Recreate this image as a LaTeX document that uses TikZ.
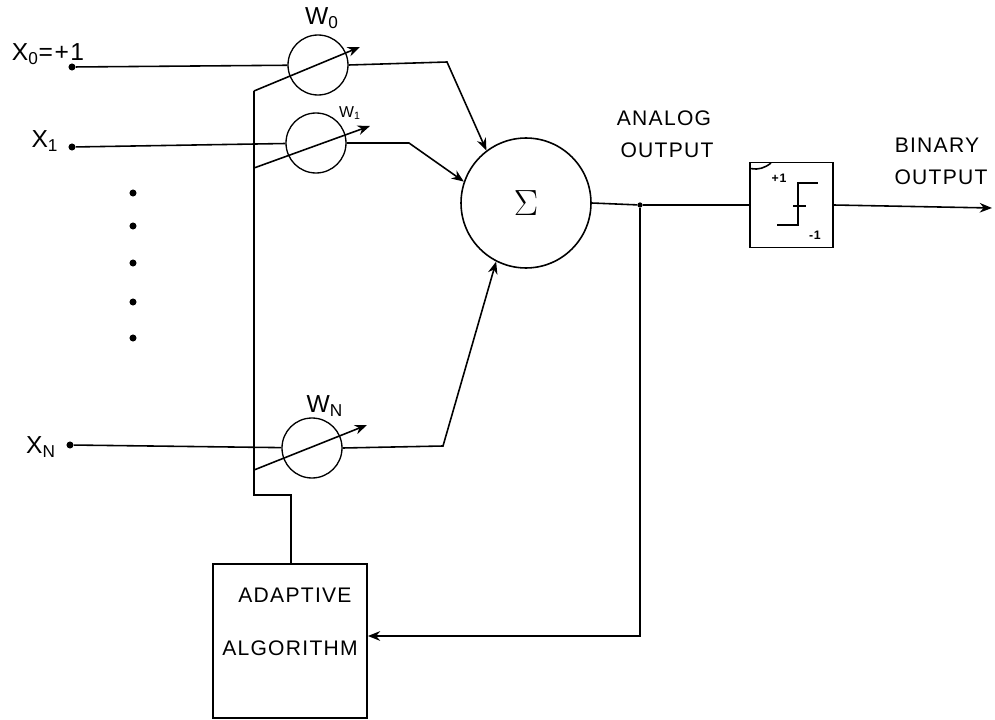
\documentclass[tikz,border=0pt]{standalone}
\usepackage{fontspec}
\setmainfont{Liberation Sans}[LetterSpace=6]
\usepackage{tikz}
\usetikzlibrary{arrows.meta}

\tikzset{
  line/.style={line width=0.9pt},
  arrowline/.style={line, -{Stealth[length=7pt,width=5.5pt]}},
  weight/.style={circle,draw,line width=0.75pt,inner sep=0pt,minimum size=1.2cm},
  blockbox/.style={rectangle,draw,line width=1pt,inner sep=0pt},
  terminal/.style={circle,fill=black,inner sep=0pt,minimum size=4pt},
  hand/.style={inner sep=0pt,font=\fontsize{12}{14}\selectfont},
  handbig/.style={inner sep=0pt,font=\fontsize{14}{16}\selectfont},
}

\begin{document}
\begin{tikzpicture}[x=0.02cm,y=-0.02cm]
  \useasboundingbox (0,0) rectangle (995,720);

  % inputs and weights
  \node[terminal] (x0) at (72,67) {};
  \node[terminal] (x1) at (72,147) {};
  \node[terminal] (xn) at (70,445) {};
  \node[weight] (w0) at (318,65) {};
  \node[weight] (w1) at (316,143) {};
  \node[weight] (wn) at (312,448) {};
  \node[handbig] (lx0) at (48,54) {X\textsubscript{0}=+1};
  \node[handbig] (lx1) at (45,141) {X\textsubscript{1}};
  \node[handbig] (lxn) at (41,447) {X\textsubscript{N}};
  \node[handbig] (lw0) at (322,18) {W\textsubscript{0}};
  \node[hand,font=\small] (lw1) at (350,113) {W\textsubscript{1}};
  \node[handbig] (lwn) at (325,406) {W\textsubscript{N}};

  % summer and blocks
  \node[circle,draw,line width=0.9pt,inner sep=0pt,minimum size=2.6cm] (sum) at (526,203) {\huge $\Sigma$};
  \node[blockbox,minimum width=1.66cm,minimum height=1.7cm] (quant) at (791.5,205) {};
  \node[blockbox,minimum width=3.08cm,minimum height=3.08cm] (adapt) at (290,641) {};
  \node[hand] (ladapt) at (295,595) {ADAPTIVE};
  \node[hand] (lalgo) at (290,648) {ALGORITHM};
  \node[hand] (lanalog) at (664,118) {ANALOG};
  \node[hand] (lanout) at (667,150) {OUTPUT};
  \node[hand] (lbinary) at (937,145) {BINARY};
  \node[hand] (lbinout) at (941,177) {OUTPUT};

  % dots between the inputs
  \foreach \ypos in {193,226,263,302,338}
    \node[terminal] (dot\ypos) at (133,\ypos) {};

  % input lines
  \draw[line] (x0) -- (w0);
  \draw[line] (x1) -- (w1);
  \draw[line] (xn) -- (wn);

  % weights to summer
  \coordinate (b0) at (447,62);
  \coordinate (b1) at (409,143);
  \coordinate (bn) at (443,446);
  \draw[arrowline] (w0.east) -- (b0) -- (sum.127);
  \draw[arrowline] (w1.east) -- (b1) -- (sum.161);
  \draw[arrowline] (wn.east) -- (bn) -- (sum.-117);

  % adjust arrows and the bus
  \coordinate (t0) at (254,91);
  \coordinate (t1) at (254,168);
  \coordinate (tn) at (254,470);
  \coordinate (h0) at (360,47);
  \coordinate (h1) at (370,126);
  \coordinate (hn) at (367,425);
  \coordinate (bus) at (254,495);
  \coordinate (busr) at (291,495);
  \draw[arrowline] (t0) -- (h0);
  \draw[arrowline] (t1) -- (h1);
  \draw[arrowline] (tn) -- (hn);
  \draw[line] (t0) -- (bus) -- (busr) -- (busr |- adapt.north);

  % output and feedback
  \node[terminal,minimum size=3pt] (junc) at (640,205) {};
  \coordinate (fb) at (640,636);
  \coordinate (outend) at (992,208);
  \draw[line] (sum.east) -- (junc) -- (quant.west);
  \draw[arrowline] (quant.east) -- (outend);
  \draw[arrowline] (junc) -- (fb) -- (fb -| adapt.east);

  % inside the hard limiter
  \coordinate (s0) at (777,225);
  \coordinate (s1) at (798,225);
  \coordinate (s2) at (798,183);
  \coordinate (s3) at (818,183);
  \coordinate (m0) at (793,206);
  \coordinate (m1) at (806,206);
  \draw[line] (s0) -- (s1) -- (s2) -- (s3);
  \draw[line] (m0) -- (m1);
  \node[inner sep=0pt,font=\scriptsize\bfseries] (lp1) at (779,178) {+1};
  \node[inner sep=0pt,font=\scriptsize\bfseries] (lm1) at (815,235) {-1};
  \draw[line] (quant.north west) ++(2,7) .. controls (758,170) and (765,168) .. (771,163);
\end{tikzpicture}
\end{document}
